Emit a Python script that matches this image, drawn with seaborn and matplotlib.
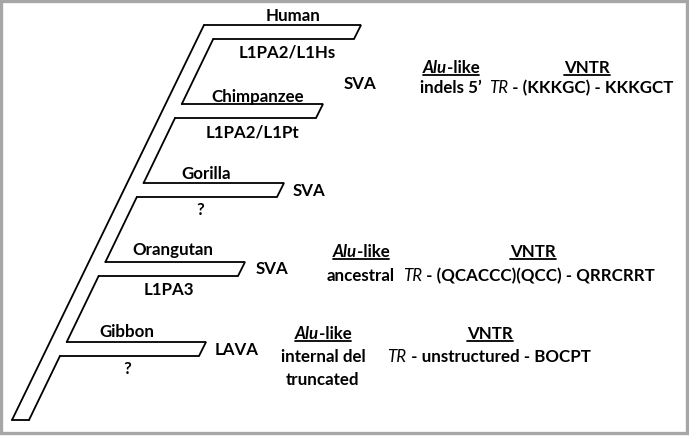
import matplotlib
matplotlib.use("Agg")
import matplotlib.pyplot as plt
import seaborn as sns
import numpy as np

# ---- data ----
species = ["Human", "Chimpanzee", "Gorilla", "Orangutan", "Gibbon"]
branch_lengths = [361, 323, 284, 245, 206]          # right end of each branch (px)
source_labels = ["L1PA2/L1Hs", "L1PA2/L1Pt", "?", "L1PA3", "?"]
element_labels = ["SVA", "SVA", "SVA", "LAVA"]
alu_titles = ["Alu-like", "Alu-like", "Alu-like"]
alu_notes = [["indels 5\u2019"], ["ancestral"], ["internal del", "truncated"]]
vntr_titles = ["VNTR", "VNTR", "VNTR"]
vntr_notes = [" - (KKKGC) - KKKGCT", " - (QCACCC)(QCC) - QRRCRRT", " - unstructured - BOCPT"]

# ---- layout ----
W, H = 689, 437
branch_top = [25, 104, 183, 262, 342]
thick = 14
slant = 7
trunk = dict(tl=(204, 25), tr=(220, 25), bl=(12, 420), br=(29, 420))

sns.set_theme(style="white")
plt.rcParams["font.family"] = ["Lato", "DejaVu Sans"]
FS = 12.2

fig = plt.figure(figsize=(W / 100, H / 100), dpi=100)
ax = fig.add_axes([0, 0, 1, 1])
ax.set_xlim(0, W)
ax.set_ylim(H, 0)
ax.axis("off")

def right_edge_x(y):
    (x0, y0), (x1, y1) = trunk["tr"], trunk["br"]
    return x0 + (x1 - x0) * (y - y0) / (y1 - y0)

def left_edge_x(y):
    (x0, y0), (x1, y1) = trunk["tl"], trunk["bl"]
    return x0 + (x1 - x0) * (y - y0) / (y1 - y0)

LW = 1.3
tx = [trunk["tl"][0], trunk["tr"][0], trunk["br"][0], trunk["bl"][0]]
ty = [trunk["tl"][1], trunk["tr"][1], trunk["br"][1], trunk["bl"][1]]
ax.fill(tx, ty, color="white", zorder=1)
ax.plot([trunk["tl"][0], trunk["bl"][0]], [trunk["tl"][1], trunk["bl"][1]], color="black", lw=LW, zorder=3)
ax.plot([trunk["bl"][0], trunk["br"][0]], [trunk["bl"][1], trunk["br"][1]], color="black", lw=LW, zorder=3)

seg_start = None
for i, (yt, xe) in enumerate(zip(branch_top, branch_lengths)):
    yb = yt + thick
    xl_t = left_edge_x(yt) if i == 0 else right_edge_x(yt)
    xl_b = right_edge_x(yb)
    px = [xl_t, xe, xe - slant, xl_b]
    py = [yt, yt, yb, yb]
    ax.fill(px, py, color="white", zorder=1)
    ax.plot(px, py, color="black", lw=LW, zorder=3, solid_joinstyle="miter")
    if seg_start is not None:
        ax.plot([right_edge_x(seg_start), right_edge_x(yt)], [seg_start, yt], color="black", lw=LW, zorder=3)
    seg_start = yb
ax.plot([right_edge_x(seg_start), trunk["br"][0]], [seg_start, trunk["br"][1]], color="black", lw=LW, zorder=3)

fig.canvas.draw()
renderer = fig.canvas.get_renderer()

def runs(xc, ybase, parts, underline=False):
    widths, objs = [], []
    for txt, style, weight in parts:
        t = ax.text(0, ybase, txt, fontsize=FS, fontstyle=style, fontweight=weight,
                    ha="left", va="baseline", color="black", zorder=5)
        widths.append(t.get_window_extent(renderer=renderer).width)
        objs.append(t)
    total = sum(widths)
    x = xc - total / 2
    for t, w in zip(objs, widths):
        t.set_x(x)
        x += w
    if underline:
        ax.plot([xc - total / 2, xc + total / 2], [ybase + 2.4, ybase + 2.4], color="black", lw=1.3, zorder=5)

B = 6.0  # offset from visual centre to baseline

def label(xc, yc, txt, underline=False):
    runs(xc, yc + B, [(txt, "normal", "bold")], underline)

name_pos = [(293, 15), (258, 96), (206, 173), (173, 249), (127, 331)]
src_pos = [(287, 52), (252, 132), (200, 209), (169, 289), (127, 368)]
for n, (x, y) in zip(species, name_pos):
    label(x, y, n)
for s, (x, y) in zip(source_labels, src_pos):
    label(x, y, s)

elem_pos = [(360, 83), (309, 190), (272, 268), (237, 349)]
for e, (x, y) in zip(element_labels, elem_pos):
    label(x, y, e)

block_y = [67, 251, 333]
note_gap = [20, 24, 23]
alu_x = [451, 361, 323]
for title, notes, x, y, g in zip(alu_titles, alu_notes, alu_x, block_y, note_gap):
    a, b = title.split("-", 1)
    runs(x, y + B, [(a, "italic", "bold"), ("-" + b, "normal", "bold")], underline=True)
    for k, nt in enumerate(notes):
        label(x, y + g * (k + 1), nt)

vntr_x = [587, 533, 490]
vntr_note_x = [581, 529, 489]
for title, note, x, y, g, nx in zip(vntr_titles, vntr_notes, vntr_x, block_y, note_gap, vntr_note_x):
    label(x, y, title, underline=True)
    runs(nx, y + g + B, [("TR", "italic", "normal"), (note, "normal", "bold")])

ax.add_patch(plt.Rectangle((1.2, 1.2), W - 3.5, H - 5.5, fill=False, edgecolor="#a6a6a6", lw=2.4, zorder=6))

fig.savefig("out.png", dpi=100)
